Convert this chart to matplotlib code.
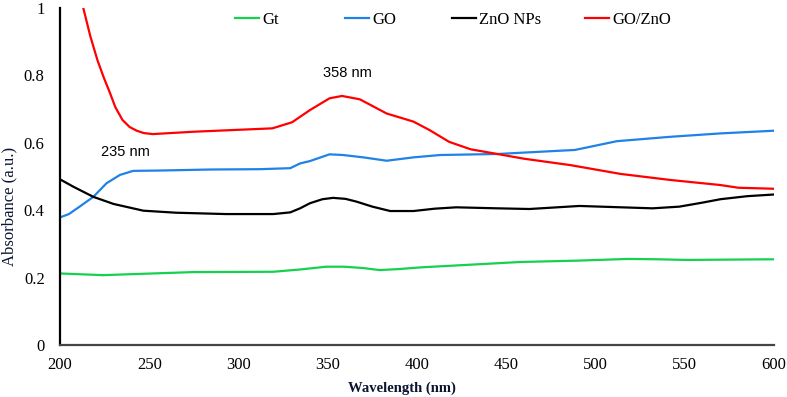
import numpy as np
import matplotlib.pyplot as plt

plt.rcParams['font.family'] = ['Liberation Serif', 'DejaVu Serif']

# Gt
gt_wl = [200, 224, 274.5, 319.5, 335, 349, 359, 370, 379, 390, 402, 430, 458, 490, 518, 535, 551, 575, 600]
gt_abs = [0.212, 0.207, 0.216, 0.217, 0.224, 0.232, 0.232, 0.228, 0.222, 0.225, 0.23, 0.238, 0.246, 0.25, 0.255, 0.254, 0.252, 0.253, 0.254]

# GO
go_wl = [200, 205, 211, 218.7, 226, 233.6, 241, 256, 284, 312, 329, 334.5, 340, 351, 358.5, 370, 383, 398, 413, 445, 463, 488.5, 512, 542, 570, 600]
go_abs = [0.378, 0.388, 0.41, 0.439, 0.479, 0.504, 0.516, 0.517, 0.52, 0.521, 0.524, 0.538, 0.545, 0.565, 0.563, 0.556, 0.546, 0.556, 0.563, 0.566, 0.571, 0.578, 0.604, 0.617, 0.627, 0.635]

# ZnO NPs
zno_wl = [200, 207.5, 218.7, 230, 246.7, 265, 293, 319.5, 329, 334.5, 340, 347, 353, 360, 366, 375, 385, 398, 410, 422, 445, 463, 491, 532, 547, 560, 570, 585, 600]
zno_abs = [0.491, 0.469, 0.439, 0.418, 0.398, 0.392, 0.388, 0.388, 0.393, 0.405, 0.42, 0.432, 0.436, 0.433, 0.425, 0.41, 0.397, 0.397, 0.404, 0.408, 0.405, 0.403, 0.412, 0.405, 0.41, 0.422, 0.432, 0.441, 0.446]

# GO/ZnO
gozno_wl = [213, 217, 221, 224.5, 228, 231, 235, 239, 243, 247, 252, 275, 297, 319, 330, 340, 351, 358, 368, 383, 398, 407, 418, 430, 445, 460, 486, 514, 542, 570, 580, 600]
gozno_abs = [1.0, 0.915, 0.844, 0.793, 0.747, 0.705, 0.667, 0.646, 0.635, 0.628, 0.625, 0.632, 0.637, 0.642, 0.66, 0.696, 0.731, 0.738, 0.728, 0.686, 0.662, 0.637, 0.602, 0.580, 0.566, 0.552, 0.533, 0.507, 0.489, 0.474, 0.466, 0.463]

fig = plt.figure(figsize=(7.87, 3.97), dpi=100)
ax = fig.add_axes([0.0762, 0.131, 0.9073, 0.850])

lines = []
lines += ax.plot(gt_wl, gt_abs, color='#14d24e', lw=1.6, label='Gt')
lines += ax.plot(go_wl, go_abs, color='#1f82e6', lw=1.6, label='GO')
lines += ax.plot(zno_wl, zno_abs, color='black', lw=1.6, label='ZnO NPs')
lines += ax.plot(gozno_wl, gozno_abs, color='#ff0000', lw=1.6, label='GO/ZnO')

ax.text(236.4, 0.572, '235 nm', family='Liberation Sans', fontsize=10.5, ha='center', va='center')
ax.text(361.3, 0.807, '358 nm', family='Liberation Sans', fontsize=10.5, ha='center', va='center')

ax.set_xlim(200, 600)
ax.set_ylim(0, 1)
ax.set_xticks(np.arange(200, 601, 50))
ax.set_yticks([0, 0.2, 0.4, 0.6, 0.8, 1])
ax.set_yticklabels(['0', '0.2', '0.4', '0.6', '0.8', '1'])
ax.tick_params(length=0, labelsize=12)
ax.tick_params(axis='x', pad=9)
ax.tick_params(axis='y', pad=11)
for s in ['top', 'right']:
    ax.spines[s].set_visible(False)
ax.spines['left'].set_linewidth(1.6)
ax.spines['bottom'].set_linewidth(1.6)
ax.spines['bottom'].set_color('#444444')

ax.set_xlabel('Wavelength (nm)', fontsize=10.5, fontweight='bold', color='#0b1530')
ax.xaxis.set_label_coords(0.479, -0.108)
ax.set_ylabel('Absorbance (a.u.)', fontsize=12, color='#0b1530')
ax.yaxis.set_label_coords(-0.060, 0.412)

# legend entries placed one by one along the top
leg_x = [0.2986, 0.4384, 0.5743, 0.7433]
for ln, lx in zip(lines, leg_x):
    lg = fig.legend([ln], [ln.get_label()], loc='center left', bbox_to_anchor=(lx, 0.950),
                    frameon=False, fontsize=12, handlelength=1.45, handletextpad=0.2,
                    borderpad=0, borderaxespad=0)

plt.savefig('out.png', dpi=100)
